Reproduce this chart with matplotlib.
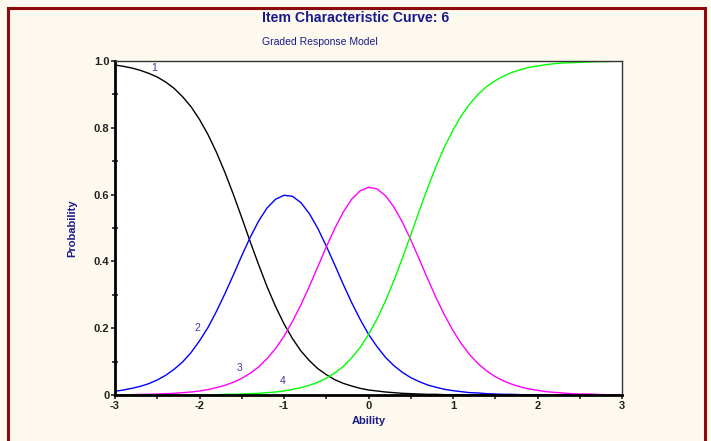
import numpy as np
import matplotlib
matplotlib.use("Agg")
import matplotlib.pyplot as plt
from matplotlib.patches import Rectangle
from matplotlib.ticker import MultipleLocator

plt.rcParams['font.family'] = ['Liberation Sans', 'DejaVu Sans']
plt.rcParams['axes.unicode_minus'] = False

# ========== data (theta step 0.1) ==========
theta = np.round(np.arange(-3.0, 3.01, 0.1), 1)

p_cat1 = [0.988, 0.984, 0.979, 0.972, 0.963, 0.952, 0.937, 0.918, 0.893, 0.863,
          0.825, 0.780, 0.727, 0.667, 0.601, 0.531, 0.459, 0.390, 0.324, 0.265,
          0.213, 0.169, 0.132, 0.103, 0.079, 0.061, 0.046, 0.035, 0.027, 0.020,
          0.015, 0.012, 0.009, 0.007, 0.005, 0.004, 0.003, 0.002, 0.002, 0.001,
          0.001, 0.001, 0.000, 0.000, 0.000, 0.000, 0.000, 0.000, 0.000, 0.000,
          0.000, 0.000, 0.000, 0.000, 0.000, 0.000, 0.000, 0.000, 0.000, 0.000,
          0.000]
p_cat2 = [0.011, 0.015, 0.020, 0.026, 0.034, 0.045, 0.059, 0.077, 0.099, 0.127,
          0.162, 0.202, 0.250, 0.303, 0.359, 0.417, 0.472, 0.521, 0.560, 0.586,
          0.598, 0.595, 0.576, 0.543, 0.499, 0.446, 0.390, 0.332, 0.277, 0.227,
          0.182, 0.145, 0.113, 0.088, 0.068, 0.052, 0.040, 0.030, 0.023, 0.017,
          0.013, 0.010, 0.007, 0.006, 0.004, 0.003, 0.002, 0.002, 0.001, 0.001,
          0.001, 0.000, 0.000, 0.000, 0.000, 0.000, 0.000, 0.000, 0.000, 0.000,
          0.000]
p_cat3 = [0.001, 0.001, 0.001, 0.002, 0.002, 0.003, 0.004, 0.005, 0.007, 0.009,
          0.012, 0.016, 0.022, 0.029, 0.038, 0.050, 0.065, 0.084, 0.109, 0.139,
          0.176, 0.220, 0.270, 0.325, 0.384, 0.443, 0.498, 0.547, 0.586, 0.611,
          0.622, 0.617, 0.597, 0.563, 0.518, 0.465, 0.407, 0.348, 0.291, 0.239,
          0.193, 0.153, 0.120, 0.093, 0.072, 0.055, 0.042, 0.032, 0.024, 0.018,
          0.014, 0.010, 0.008, 0.006, 0.004, 0.003, 0.003, 0.002, 0.001, 0.001,
          0.001]
p_cat4 = [0.000, 0.000, 0.000, 0.000, 0.000, 0.000, 0.000, 0.000, 0.000, 0.001,
          0.001, 0.001, 0.001, 0.002, 0.002, 0.003, 0.004, 0.005, 0.007, 0.009,
          0.012, 0.017, 0.022, 0.029, 0.038, 0.050, 0.066, 0.085, 0.111, 0.142,
          0.181, 0.227, 0.281, 0.342, 0.409, 0.479, 0.551, 0.620, 0.685, 0.743,
          0.793, 0.837, 0.872, 0.901, 0.924, 0.941, 0.955, 0.966, 0.974, 0.981,
          0.985, 0.989, 0.992, 0.994, 0.995, 0.996, 0.997, 0.998, 0.998, 0.999,
          0.999]

curves = [p_cat1, p_cat2, p_cat3, p_cat4]
curve_colors = ['black', '#0000ff', '#ff00ff', '#00ff00']
curve_labels = ['1', '2', '3', '4']
label_pos = [(-2.54, 0.979), (-2.03, 0.20), (-1.53, 0.081), (-1.02, 0.042)]

navy = '#1a1a8c'
bg = '#fef9ee'

# ========== figure ==========
fig = plt.figure(figsize=(7.11, 4.41), dpi=100, facecolor=bg)
ax = fig.add_axes([115/711, 1 - 395/441, 507/711, 334/441])
ax.set_facecolor('white')

for vals, col in zip(curves, curve_colors):
    ax.plot(theta, vals, color=col, linewidth=1.0, zorder=2)

for lab, (x, y) in zip(curve_labels, label_pos):
    ax.text(x, y, lab, color='#3a3aa0', fontsize=7.5, ha='center', va='center')

ax.set_xlim(-3, 3)
ax.set_ylim(0, 1)
ax.xaxis.set_minor_locator(MultipleLocator(0.5))
ax.yaxis.set_minor_locator(MultipleLocator(0.1))
ax.set_yticks([0, 0.2, 0.4, 0.6, 0.8, 1.0])
ax.set_yticklabels(['0', '0.2', '0.4', '0.6', '0.8', '1.0'])
ax.set_xticks([-3, -2, -1, 0, 1, 2, 3])
ax.set_xticklabels(['-3', '-2', '-1', '0', '1', '2', '3'])

ax.tick_params(which='major', direction='out', length=3, width=1.2,
               labelsize=8, colors='#222222', pad=1)
ax.tick_params(axis='y', which='minor', direction='inout', length=4, width=1.2, colors='#222222')
ax.tick_params(axis='x', which='minor', direction='out', length=3, width=1.2, colors='#222222')
for lbl in ax.get_xticklabels() + ax.get_yticklabels():
    lbl.set_fontweight('bold')

for side in ['left', 'bottom']:
    ax.spines[side].set_linewidth(2.0)
    ax.spines[side].set_color('black')
for side in ['top', 'right']:
    ax.spines[side].set_linewidth(1.0)
    ax.spines[side].set_color('#333333')

ax.set_xlabel('Ability', fontsize=8, fontweight='bold', color=navy, labelpad=4)
ax.set_ylabel('Probability', fontsize=8, fontweight='bold', color=navy, labelpad=12)

fig.text(262/711, 1 - 18/441, 'Item Characteristic Curve: 6', fontsize=10.2,
         fontweight='bold', color=navy, ha='left', va='center')
fig.text(262/711, 1 - 42/441, 'Graded Response Model', fontsize=7.5,
         color=navy, ha='left', va='center')

# dark red frame around the panel
frame = Rectangle((8/711, -0.1), (705 - 8)/711, 1.1 - 8/441, transform=fig.transFigure,
                  fill=False, edgecolor='#8b0a0a', linewidth=2.2, clip_on=False)
fig.patches.append(frame)

fig.savefig('out.png', dpi=100, facecolor=bg)
